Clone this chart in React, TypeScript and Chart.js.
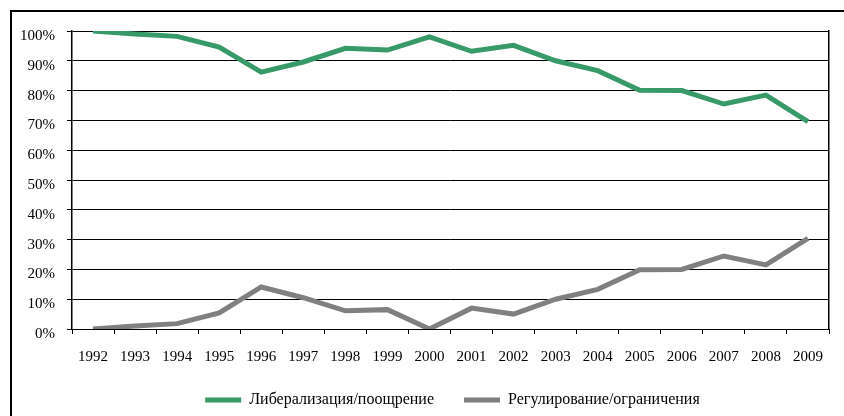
import React, { useEffect, useRef } from "react";
import { Chart, registerables } from "chart.js";

Chart.register(...registerables);

const years = ["1992","1993","1994","1995","1996","1997","1998","1999","2000","2001","2002","2003","2004","2005","2006","2007","2008","2009"];
const liberalization = [100, 99, 98.2, 94.6, 86.2, 89.6, 94.2, 93.6, 98, 93.2, 95.2, 90, 86.7, 80.1, 80, 75.5, 78.5, 69.6];
const regulation = [0, 1, 1.8, 5.4, 14.1, 10.5, 6.1, 6.5, 0, 7, 5, 10, 13.3, 19.9, 20, 24.5, 21.5, 30.4];
const seriesNames = ["Либерализация/поощрение", "Регулирование/ограничения"];
const seriesColors = ["#389a68", "#808080"];

const FONT = "'Liberation Serif', 'Times New Roman', serif";

export default function App() {
  const ref = useRef<HTMLCanvasElement | null>(null);

  useEffect(() => {
    if (!ref.current) return;
    const chart = new Chart(ref.current, {
      type: "line",
      data: {
        labels: years,
        datasets: [
          {
            label: seriesNames[0],
            data: liberalization,
            borderColor: seriesColors[0],
            backgroundColor: seriesColors[0],
            borderWidth: 5,
            pointRadius: 0,
            tension: 0,
            yAxisID: "y",
          },
          {
            label: seriesNames[1],
            data: regulation,
            borderColor: seriesColors[1],
            backgroundColor: seriesColors[1],
            borderWidth: 5,
            pointRadius: 0,
            tension: 0,
            yAxisID: "y",
          },
        ],
      },
      options: {
        animation: false,
        responsive: false,
        maintainAspectRatio: false,
        layout: { padding: { left: 15, right: -46, top: 31, bottom: -2 } },
        plugins: {
          tooltip: { enabled: false },
          legend: {
            position: "bottom",
            labels: {
              font: { family: FONT, size: 16 },
              color: "#000",
              boxWidth: 36,
              boxHeight: 5,
              padding: 30,
              generateLabels: (c: any) =>
                c.data.datasets.map((ds: any, i: number) => ({
                  text: ds.label,
                  fillStyle: ds.borderColor,
                  strokeStyle: ds.borderColor,
                  lineWidth: 0,
                  hidden: false,
                  datasetIndex: i,
                  fontColor: "#000",
                })),
            },
          },
        },
        scales: {
          x: {
            type: "category",
            offset: true,
            grid: {
              display: true,
              drawOnChartArea: false,
              drawTicks: true,
              tickLength: 5,
              offset: true,
              color: "#000",
            },
            border: { display: true, color: "#000", width: 1 },
            ticks: {
              font: { family: FONT, size: 15 },
              color: "#000",
              padding: 14,
              maxRotation: 0,
              autoSkip: false,
            },
            afterFit: (s: any) => {
              s.height = 33;
            },
          },
          y: {
            type: "linear",
            position: "left",
            min: 0,
            max: 100,
            grid: {
              color: "#000",
              lineWidth: 1,
              tickLength: 5,
            },
            border: { display: true, color: "#000", width: 1.5 },
            ticks: {
              stepSize: 10,
              font: { family: FONT, size: 15 },
              color: "#000",
              padding: 12,
              labelOffset: 5,
              callback: (v: any) => v + "%",
            },
            afterFit: (s: any) => {
              s.width = 57;
            },
          },
          yRight: {
            type: "linear",
            position: "right",
            min: 0,
            max: 100,
            grid: { display: false, drawOnChartArea: false },
            border: { display: true, color: "#000", width: 1.5 },
            ticks: { display: false },
            afterFit: (s: any) => {
              s.width = 61;
            },
          },
        },
      },
    });
    return () => chart.destroy();
  }, []);

  return (
    <div
      style={{
        position: "absolute",
        left: 0,
        top: 0,
        width: 844,
        height: 416,
        overflow: "hidden",
        background: "#fff",
      }}
    >
      <div
        style={{
          position: "absolute",
          left: 10,
          top: 10,
          width: 900,
          height: 500,
          border: "2px solid #000",
          boxSizing: "border-box",
        }}
      />
      <canvas
        ref={ref}
        width={844}
        height={416}
        style={{ position: "absolute", left: 0, top: 0, width: 844, height: 416 }}
      />
    </div>
  );
}
